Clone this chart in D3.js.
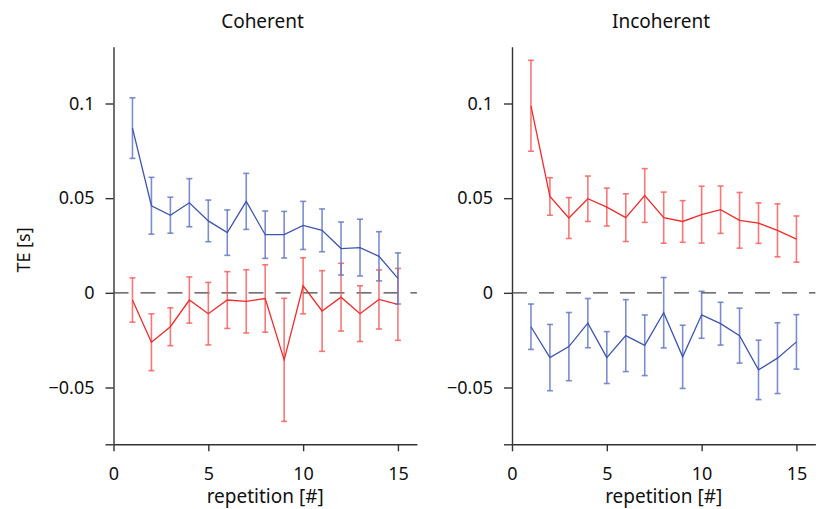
<!DOCTYPE html>
<html lang="en">
<head>
    <meta charset="utf-8">
    <title>TE per repetition</title>
    <script src="https://cdn.jsdelivr.net/npm/d3@7"></script>
    <style>
        body { margin: 0; background: #fff; }
        text { font-family: "Noto Sans", "Open Sans", sans-serif; fill: #111; }
        .axis path, .axis line { stroke: #333; stroke-width: 1.4; }
        .axis text { font-size: 18px; fill: #111; }
    </style>
</head>
<body>
<script type="text/javascript">
    var reps = [1, 2, 3, 4, 5, 6, 7, 8, 9, 10, 11, 12, 13, 14, 15];
    var panelTitles = ['Coherent', 'Incoherent'];
    var yTicks = [-0.08, -0.05, 0, 0.05, 0.1];
    var xTicks = [0, 5, 10, 15];

    // coherent
    var cohBlue = [0.087, 0.046, 0.041, 0.0476, 0.038, 0.0318, 0.0483, 0.0307, 0.0307, 0.0356, 0.033, 0.0234, 0.0239, 0.0193, 0.0076];
    var cohBlueErr = [0.016, 0.015, 0.0095, 0.0127, 0.011, 0.012, 0.0148, 0.0125, 0.0123, 0.0127, 0.0113, 0.014, 0.015, 0.013, 0.0135];
    var cohRed = [-0.0038, -0.0261, -0.0179, -0.0038, -0.011, -0.0038, -0.0045, -0.003, -0.0354, 0.0037, -0.0096, -0.0023, -0.011, -0.0035, -0.0061];
    var cohRedErr = [0.0117, 0.015, 0.01, 0.0122, 0.0165, 0.015, 0.0167, 0.0178, 0.0325, 0.0148, 0.0213, 0.0179, 0.0147, 0.0156, 0.019];

    // incoherent
    var incRed = [0.0988, 0.0509, 0.0395, 0.0497, 0.0453, 0.0397, 0.0514, 0.0397, 0.0377, 0.0413, 0.0439, 0.0383, 0.0368, 0.033, 0.0284];
    var incRedErr = [0.024, 0.0099, 0.0108, 0.012, 0.01, 0.0126, 0.0142, 0.0135, 0.011, 0.015, 0.0125, 0.0147, 0.0107, 0.014, 0.0122];
    var incBlue = [-0.0179, -0.0342, -0.0284, -0.016, -0.0342, -0.0226, -0.0277, -0.0105, -0.0338, -0.0116, -0.0163, -0.0226, -0.0407, -0.0345, -0.0259];
    var incBlueErr = [0.012, 0.0175, 0.018, 0.013, 0.0137, 0.019, 0.016, 0.0186, 0.0167, 0.0124, 0.0113, 0.0145, 0.0157, 0.0187, 0.0144];

    var blue = '#3f55ad', blueBar = '#6679c4';
    var red = '#ee2c2c', redBar = '#f46060';

    var panels = [
        { title: panelTitles[0], left: 113.5, series: [[cohRed, cohRedErr, red, redBar], [cohBlue, cohBlueErr, blue, blueBar]] },
        { title: panelTitles[1], left: 512, series: [[incRed, incRedErr, red, redBar], [incBlue, incBlueErr, blue, blueBar]] }
    ];

    var svgWidth = 819, svgHeight = 509;
    var plotTop = 46.7, plotBottom = 444.3, plotWidth = 303.4;

    var svg = d3.select('body').append('svg')
        .attr('width', svgWidth)
        .attr('height', svgHeight);

    var yScale = d3.scaleLinear().domain([-0.08, 0.13]).range([plotBottom, plotTop]);

    panels.forEach(function (p, pi) {
        var xScale = d3.scaleLinear().domain([0, 16]).range([p.left, p.left + plotWidth]);
        var g = svg.append('g');

        // y axis
        var yAxis = d3.axisLeft(yScale)
            .tickValues(yTicks)
            .tickSize(8)
            .tickSizeOuter(0)
            .tickPadding(11)
            .tickFormat(function (d) { return d === -0.08 ? '' : (d === 0 ? '0' : d3.format('')(d)); });
        g.append('g').attr('class', 'axis')
            .attr('transform', 'translate(' + p.left + ',0)')
            .call(yAxis);

        // x axis
        var xAxis = d3.axisBottom(xScale)
            .tickValues(xTicks)
            .tickSize(7)
            .tickSizeOuter(0)
            .tickPadding(16);
        g.append('g').attr('class', 'axis')
            .attr('transform', 'translate(0,' + plotBottom + ')')
            .call(xAxis);

        // zero line
        g.append('line')
            .attr('x1', xScale(0)).attr('x2', xScale(16))
            .attr('y1', yScale(0)).attr('y2', yScale(0))
            .attr('stroke', '#444')
            .attr('stroke-width', 1.4)
            .attr('stroke-dasharray', '15,12');

        p.series.forEach(function (s) {
            var vals = s[0], errs = s[1];
            var pts = reps.map(function (r, i) { return { x: r, y: vals[i], e: errs[i] }; });

            var bars = g.append('g')
                .attr('stroke', s[3])
                .attr('stroke-width', 1.6)
                .attr('stroke-opacity', 0.85);
            bars.selectAll('line.v').data(pts).enter().append('line')
                .attr('class', 'v')
                .attr('x1', function (d) { return xScale(d.x); })
                .attr('x2', function (d) { return xScale(d.x); })
                .attr('y1', function (d) { return yScale(d.y - d.e); })
                .attr('y2', function (d) { return yScale(d.y + d.e); });
            [1, -1].forEach(function (sign) {
                bars.selectAll('line.c' + sign).data(pts).enter().append('line')
                    .attr('x1', function (d) { return xScale(d.x) - 3; })
                    .attr('x2', function (d) { return xScale(d.x) + 3; })
                    .attr('y1', function (d) { return yScale(d.y + sign * d.e); })
                    .attr('y2', function (d) { return yScale(d.y + sign * d.e); });
            });

            var line = d3.line()
                .x(function (d) { return xScale(d.x); })
                .y(function (d) { return yScale(d.y); });
            g.append('path')
                .datum(pts)
                .attr('d', line)
                .attr('fill', 'none')
                .attr('stroke', s[2])
                .attr('stroke-width', 1.3);
        });

        g.append('text')
            .attr('x', p.left + 149)
            .attr('y', 28)
            .attr('text-anchor', 'middle')
            .style('font-size', '19px')
            .text(p.title);

        g.append('text')
            .attr('x', xScale(8))
            .attr('y', 503)
            .attr('text-anchor', 'middle')
            .style('font-size', '19px')
            .text('repetition [#]');
    });

    svg.append('text')
        .attr('transform', 'translate(30,250) rotate(-90)')
        .attr('text-anchor', 'middle')
        .style('font-size', '18px')
        .text('TE [s]');
</script>
</body>
</html>
